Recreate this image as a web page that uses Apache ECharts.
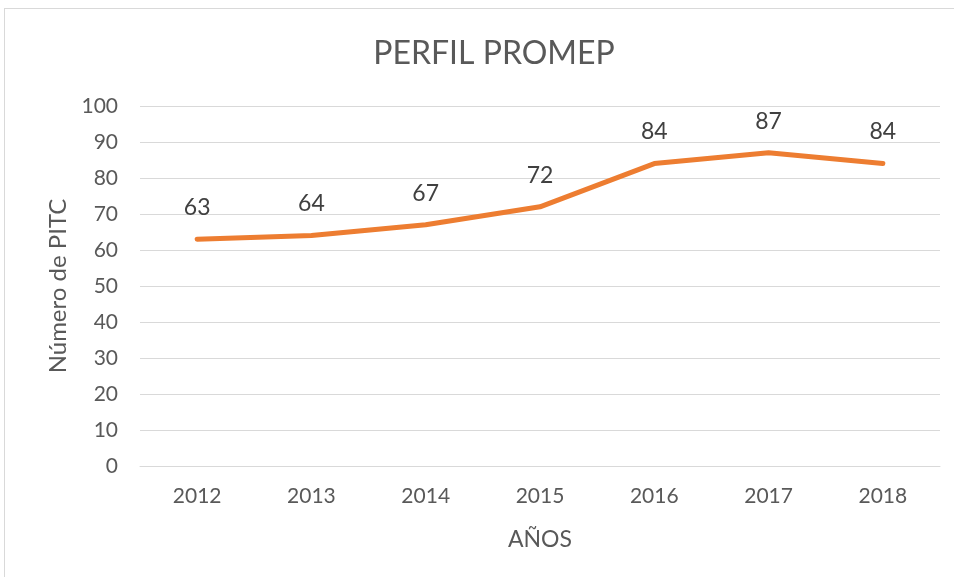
<!DOCTYPE html>
<html>
<head>
<meta charset="utf-8">
<script src="https://cdn.jsdelivr.net/npm/echarts@6/dist/echarts.min.js"></script>
<style>
  html, body { margin: 0; padding: 0; background: #fff; }
  #frame { position: absolute; left: 4px; top: 8px; width: 960px; height: 580px; border: 1px solid #d9d9d9; box-sizing: border-box; }
  #chart { position: absolute; left: 0; top: 0; width: 954px; height: 577px; }
</style>
</head>
<body>
<div id="frame"></div>
<div id="chart"></div>
<script>
// datos del gráfico
const years = ['2012', '2013', '2014', '2015', '2016', '2017', '2018'];
const pitc = [63, 64, 67, 72, 84, 87, 84];

const chart = echarts.init(document.getElementById('chart'));
const font = 'Lato, "Open Sans", sans-serif';

chart.setOption({
  animation: false,
  title: {
    text: 'PERFIL PROMEP',
    left: 489, top: 33, textAlign: 'center',
    textStyle: { fontFamily: font, fontSize: 32, fontWeight: 'normal', color: '#595959' }
  },
  grid: { left: 140, right: 14, top: 106, bottom: 111 },
  xAxis: {
    type: 'category',
    data: years,
    boundaryGap: true,
    name: 'AÑOS',
    nameLocation: 'middle',
    nameGap: 62,
    nameTextStyle: { fontFamily: font, fontSize: 23, color: '#595959' },
    axisLine: { show: true, lineStyle: { color: '#d9d9d9', width: 1 } },
    axisTick: { show: false },
    axisLabel: { fontFamily: font, fontSize: 21, color: '#595959', margin: 20 }
  },
  yAxis: {
    type: 'value',
    min: 0, max: 100, interval: 10,
    name: 'Número de PITC',
    nameLocation: 'middle',
    nameGap: 70,
    nameTextStyle: { fontFamily: font, fontSize: 24, color: '#595959' },
    axisLine: { show: false },
    axisTick: { show: false },
    axisLabel: { fontFamily: font, fontSize: 21, color: '#595959', margin: 22 },
    splitLine: { lineStyle: { color: '#d9d9d9', width: 1 } }
  },
  series: [{
    type: 'line',
    data: pitc,
    symbol: 'circle',
    symbolSize: 0.1,
    showSymbol: true,
    lineStyle: { color: '#ED7D31', width: 5, cap: 'round', join: 'round' },
    itemStyle: { color: '#ED7D31' },
    label: {
      show: true, position: 'top', distance: 20,
      fontFamily: font, fontSize: 23, color: '#404040'
    }
  }]
});
</script>
</body>
</html>
